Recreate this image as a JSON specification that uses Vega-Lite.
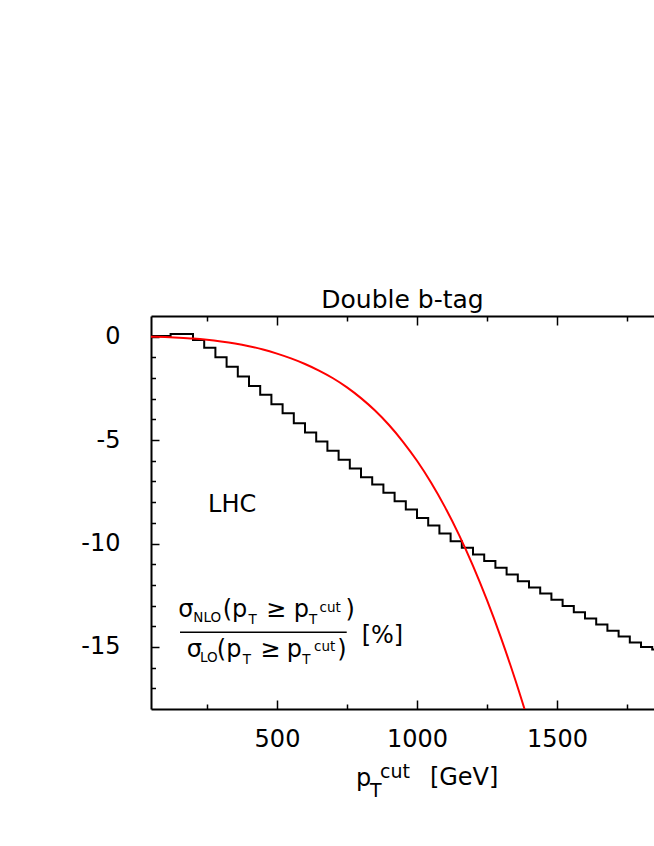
{
  "$schema": "https://vega.github.io/schema/vega-lite/v6.json",
  "width": 503,
  "height": 393,
  "autosize": {"type": "none"},
  "padding": {"left": 151, "top": 316, "right": 0, "bottom": 120},
  "background": "white",
  "config": {
    "view": {"stroke": null},
    "font": "DejaVu Sans",
    "axis": {
      "tickColor": "black", "tickWidth": 1.5,
      "domainColor": "black", "domainWidth": 2,
      "labelFont": "DejaVu Sans", "labelFontSize": 24, "labelColor": "black",
      "labelFlush": false, "labelOverlap": false,
      "grid": false, "title": null, "zindex": 1
    }
  },
  "title": {"text": "Double b-tag", "font": "DejaVu Sans", "fontSize": 25, "fontWeight": "normal", "color": "black", "anchor": "middle", "offset": 2},
  "datasets": {
    "step": [
      {"x": 40, "y": 0.03}, {"x": 80, "y": 0.03}, {"x": 120, "y": 0.13}, {"x": 160, "y": 0.13},
      {"x": 200, "y": -0.16}, {"x": 240, "y": -0.53}, {"x": 280, "y": -1.0}, {"x": 320, "y": -1.45},
      {"x": 360, "y": -1.93}, {"x": 400, "y": -2.38}, {"x": 440, "y": -2.81}, {"x": 480, "y": -3.27},
      {"x": 520, "y": -3.70}, {"x": 560, "y": -4.18}, {"x": 600, "y": -4.63}, {"x": 640, "y": -5.07},
      {"x": 680, "y": -5.51}, {"x": 720, "y": -5.95}, {"x": 760, "y": -6.37}, {"x": 800, "y": -6.80},
      {"x": 840, "y": -7.15}, {"x": 880, "y": -7.55}, {"x": 920, "y": -7.96}, {"x": 960, "y": -8.36},
      {"x": 1000, "y": -8.76}, {"x": 1040, "y": -9.13}, {"x": 1080, "y": -9.52}, {"x": 1120, "y": -9.89},
      {"x": 1160, "y": -10.21}, {"x": 1200, "y": -10.53}, {"x": 1240, "y": -10.85}, {"x": 1280, "y": -11.17},
      {"x": 1320, "y": -11.50}, {"x": 1360, "y": -11.82}, {"x": 1400, "y": -12.12}, {"x": 1440, "y": -12.42},
      {"x": 1480, "y": -12.72}, {"x": 1520, "y": -13.02}, {"x": 1560, "y": -13.32}, {"x": 1600, "y": -13.62},
      {"x": 1640, "y": -13.92}, {"x": 1680, "y": -14.22}, {"x": 1720, "y": -14.5}, {"x": 1760, "y": -14.78},
      {"x": 1800, "y": -15.0}, {"x": 1840, "y": -15.12}, {"x": 1880, "y": -15.12}
    ],
    "nlo": [
      {"x": 50, "y": 0}, {"x": 100, "y": -0.02}, {"x": 150, "y": -0.05}, {"x": 200, "y": -0.09},
      {"x": 250, "y": -0.15}, {"x": 300, "y": -0.23}, {"x": 350, "y": -0.33}, {"x": 400, "y": -0.46},
      {"x": 450, "y": -0.62}, {"x": 500, "y": -0.82}, {"x": 550, "y": -1.05}, {"x": 600, "y": -1.32},
      {"x": 650, "y": -1.64}, {"x": 700, "y": -2.01}, {"x": 750, "y": -2.45}, {"x": 800, "y": -2.97},
      {"x": 850, "y": -3.57}, {"x": 900, "y": -4.27}, {"x": 950, "y": -5.08}, {"x": 1000, "y": -6.0},
      {"x": 1050, "y": -7.05}, {"x": 1100, "y": -8.24}, {"x": 1150, "y": -9.58}, {"x": 1200, "y": -11.08},
      {"x": 1250, "y": -12.74}, {"x": 1300, "y": -14.56}, {"x": 1350, "y": -16.55}, {"x": 1400, "y": -18.7}
    ],
    "txt_main": [
      {"x": 253.6, "y": -8.46, "t": "LHC"},
      {"x": 147.5, "y": -13.55, "t": "σ"},
      {"x": 306, "y": -13.55, "t": "(p"},
      {"x": 461, "y": -13.55, "t": "≥"},
      {"x": 560, "y": -13.55, "t": "p"},
      {"x": 745, "y": -13.55, "t": ")"},
      {"x": 177.5, "y": -15.47, "t": "σ"},
      {"x": 285, "y": -15.47, "t": "(p"},
      {"x": 440, "y": -15.47, "t": "≥"},
      {"x": 535, "y": -15.47, "t": "p"},
      {"x": 715, "y": -15.47, "t": ")"},
      {"x": 802.5, "y": -14.83, "t": "[%]"},
      {"x": 782, "y": -21.73, "t": "p"},
      {"x": 1046, "y": -21.68, "t": "[GeV]"}
    ],
    "txt_small": [
      {"x": 201, "y": -13.8, "t": "NLO"},
      {"x": 398, "y": -13.89, "t": "T"},
      {"x": 614, "y": -13.89, "t": "T"},
      {"x": 652, "y": -13.3, "t": "cut"},
      {"x": 225, "y": -15.73, "t": "LO"},
      {"x": 378, "y": -15.83, "t": "T"},
      {"x": 590, "y": -15.83, "t": "T"},
      {"x": 632, "y": -15.2, "t": "cut"}
    ],
    "txt_axis": [
      {"x": 832, "y": -22.26, "t": "T"},
      {"x": 868, "y": -21.35, "t": "cut"}
    ],
    "bar": [
      {"x": 153.6, "x2": 749, "y": -14.29}
    ]
  },
  "layer": [
    {
      "data": {"name": "step"},
      "mark": {"type": "line", "interpolate": "step-after", "color": "black", "strokeWidth": 2, "clip": true},
      "encoding": {
        "x": {
          "field": "x", "type": "quantitative",
          "scale": {"domain": [50, 1846.4], "nice": false, "zero": false},
          "axis": {
            "orient": "bottom",
            "values": [500, 1000, 1500],
            "labelExpr": "toString(datum.value)",
            "tickSize": -9,
            "labelPadding": 27.5
          }
        },
        "y": {
          "field": "y", "type": "quantitative",
          "scale": {"domain": [-18, 1], "nice": false, "zero": false},
          "axis": {
            "orient": "left",
            "values": [-15, -10, -5, 0],
            "labelExpr": "toString(datum.value)",
            "tickSize": -8,
            "labelPadding": 39
          }
        }
      }
    },
    {
      "data": {"name": "nlo"},
      "mark": {"type": "line", "interpolate": "monotone", "color": "#ff0000", "strokeWidth": 2, "clip": true},
      "encoding": {
        "x": {
          "field": "x", "type": "quantitative",
          "axis": {
            "orient": "bottom",
            "values": [250, 750, 1250, 1750],
            "labels": false, "domain": false,
            "tickSize": -5
          }
        },
        "y": {
          "field": "y", "type": "quantitative",
          "axis": {
            "orient": "left",
            "values": [-17, -16, -14, -13, -12, -11, -9, -8, -7, -6, -4, -3, -2, -1],
            "labels": false, "domain": false,
            "tickSize": -4.5
          }
        }
      }
    },
    {
      "data": {"name": "bar"},
      "mark": {"type": "rule", "color": "black", "strokeWidth": 1.5},
      "encoding": {
        "x": {
          "field": "x", "type": "quantitative",
          "axis": {
            "orient": "top",
            "values": [500, 1000, 1500],
            "labels": false,
            "tickSize": -9
          }
        },
        "x2": {"field": "x2"},
        "y": {"field": "y", "type": "quantitative", "axis": null}
      }
    },
    {
      "data": {"name": "txt_main"},
      "mark": {"type": "text", "align": "left", "baseline": "alphabetic", "font": "DejaVu Sans", "fontSize": 24, "color": "black"},
      "encoding": {
        "x": {
          "field": "x", "type": "quantitative",
          "axis": {
            "orient": "top",
            "values": [250, 750, 1250, 1750],
            "labels": false, "domain": false,
            "tickSize": -5
          }
        },
        "y": {"field": "y", "type": "quantitative", "axis": null},
        "text": {"field": "t"}
      }
    },
    {
      "data": {"name": "txt_small"},
      "mark": {"type": "text", "align": "left", "baseline": "alphabetic", "font": "DejaVu Sans", "fontSize": 13.5, "color": "black"},
      "encoding": {
        "x": {"field": "x", "type": "quantitative", "axis": null},
        "y": {"field": "y", "type": "quantitative", "axis": null},
        "text": {"field": "t"}
      }
    },
    {
      "data": {"name": "txt_axis"},
      "mark": {"type": "text", "align": "left", "baseline": "alphabetic", "font": "DejaVu Sans", "fontSize": 19, "color": "black"},
      "encoding": {
        "x": {"field": "x", "type": "quantitative", "axis": null},
        "y": {"field": "y", "type": "quantitative", "axis": null},
        "text": {"field": "t"}
      }
    }
  ],
  "resolve": {"axis": {"x": "independent", "y": "independent"}}
}
